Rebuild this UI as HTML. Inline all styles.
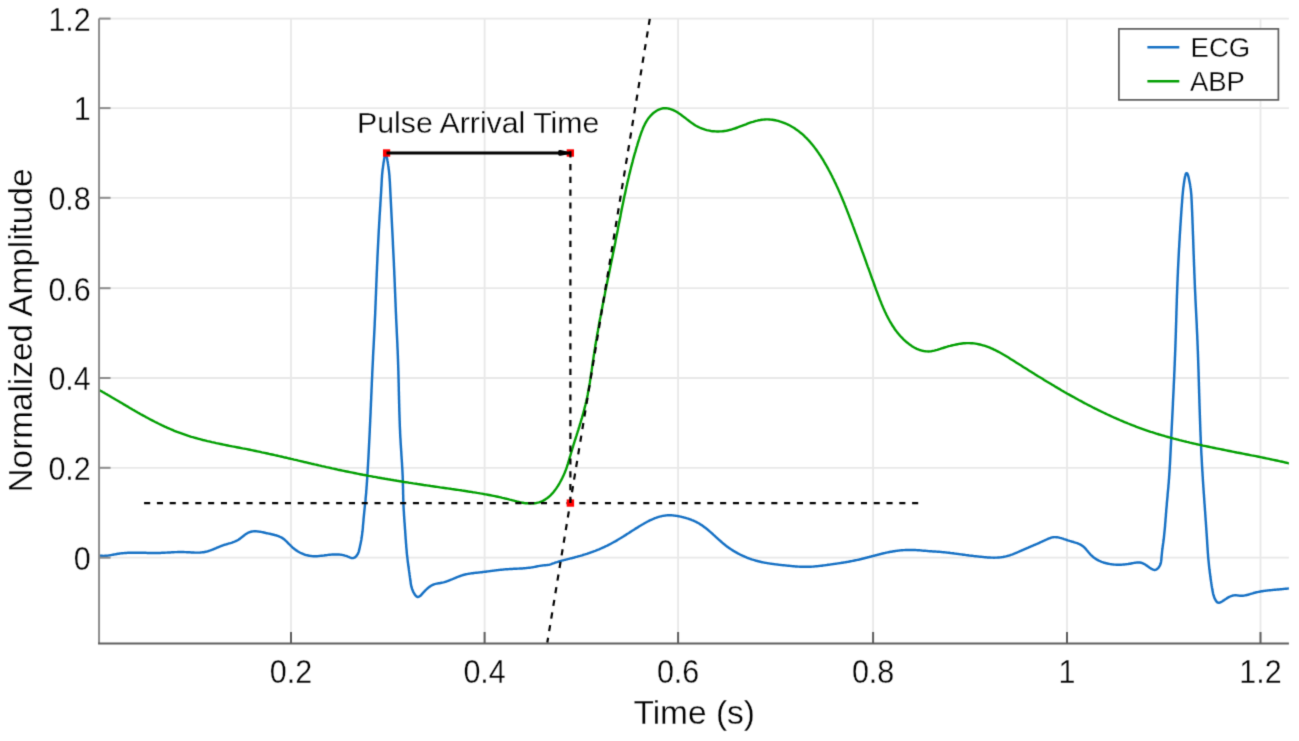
<!DOCTYPE html>
<html><head><meta charset="utf-8"><style>
html,body{margin:0;padding:0;background:#fff;width:1299px;height:741px;overflow:hidden}
svg{position:absolute;left:0;top:0;font-family:"Liberation Sans",sans-serif;}
text{stroke:#fff;stroke-width:0.3px}
</style></head><body>
<svg width="1299" height="741" viewBox="0 0 1299 741">
<defs><filter id="bl" x="0" y="0" width="1299" height="741" filterUnits="userSpaceOnUse" color-interpolation-filters="sRGB"><feConvolveMatrix order="3" kernelMatrix="0.01917 0.10012 0.01917 0.10012 0.52283 0.10012 0.01917 0.10012 0.01917" edgeMode="duplicate" preserveAlpha="true"/></filter></defs>
<g filter="url(#bl)">
<rect width="1299" height="741" fill="#fff"/>
<defs><clipPath id="pc"><rect x="99.05" y="18.6" width="1189.8500000000001" height="624.9"/></clipPath></defs>
<g stroke="#e8e8e8" stroke-width="1.8" fill="none">
<line x1="291.0" y1="18.6" x2="291.0" y2="643.5"/><line x1="484.6" y1="18.6" x2="484.6" y2="643.5"/><line x1="678.1" y1="18.6" x2="678.1" y2="643.5"/><line x1="873.1" y1="18.6" x2="873.1" y2="643.5"/><line x1="1067.0" y1="18.6" x2="1067.0" y2="643.5"/><line x1="1260.5" y1="18.6" x2="1260.5" y2="643.5"/><line x1="99.05" y1="557.7" x2="1288.9" y2="557.7"/><line x1="99.05" y1="467.8" x2="1288.9" y2="467.8"/><line x1="99.05" y1="378.0" x2="1288.9" y2="378.0"/><line x1="99.05" y1="288.2" x2="1288.9" y2="288.2"/><line x1="99.05" y1="197.8" x2="1288.9" y2="197.8"/><line x1="99.05" y1="108.1" x2="1288.9" y2="108.1"/><line x1="99.05" y1="18.6" x2="1288.9" y2="18.6"/>
</g>
<g clip-path="url(#pc)" fill="none" stroke-linejoin="round" stroke-linecap="round">
<path d="M99.0,555.4L100.0,555.6 101.0,555.7 102.0,555.8 103.0,555.9 104.0,555.9 105.0,555.8 106.0,555.8 107.0,555.7 108.0,555.6 109.0,555.4 109.9,555.3 110.9,555.1 111.9,554.9 112.9,554.7 113.9,554.5 114.9,554.4 115.8,554.2 116.8,554.0 117.8,553.8 118.8,553.7 119.8,553.5 120.8,553.4 121.8,553.3 122.8,553.2 123.8,553.1 124.8,553.0 125.8,552.9 126.8,552.9 127.8,552.8 128.8,552.8 129.8,552.7 130.8,552.7 131.8,552.7 132.8,552.7 133.8,552.7 134.8,552.7 135.8,552.7 136.8,552.7 137.8,552.7 138.8,552.7 139.8,552.7 140.8,552.7 141.8,552.7 142.8,552.8 143.8,552.8 144.8,552.8 145.8,552.8 146.8,552.9 147.8,552.9 148.8,552.9 149.8,552.9 150.8,552.9 151.8,552.9 152.8,553.0 153.8,553.0 154.8,553.0 155.8,553.0 156.8,553.0 157.8,553.0 158.8,552.9 159.8,552.9 160.8,552.9 161.8,552.8 162.8,552.8 163.8,552.8 164.8,552.7 165.8,552.6 166.8,552.6 167.8,552.5 168.8,552.5 169.8,552.4 170.8,552.4 171.8,552.3 172.8,552.2 173.8,552.2 174.8,552.1 175.8,552.1 176.8,552.1 177.8,552.0 178.8,552.0 179.8,552.0 180.8,552.0 181.8,552.0 182.8,552.0 183.8,552.0 184.8,552.1 185.8,552.1 186.8,552.2 187.8,552.2 188.8,552.3 189.8,552.3 190.8,552.4 191.8,552.4 192.8,552.5 193.8,552.5 194.8,552.6 195.8,552.6 196.8,552.6 197.8,552.6 198.8,552.6 199.8,552.6 200.8,552.5 201.7,552.4 202.7,552.3 203.7,552.2 204.7,552.0 205.7,551.8 206.7,551.6 207.6,551.3 208.6,551.0 209.5,550.7 210.5,550.4 211.4,550.0 212.4,549.7 213.3,549.3 214.2,548.9 215.1,548.5 216.1,548.1 217.0,547.7 217.9,547.3 218.8,547.0 219.7,546.6 220.7,546.2 221.6,545.8 222.5,545.5 223.5,545.2 224.4,544.8 225.4,544.6 226.3,544.3 227.3,544.0 228.3,543.7 229.2,543.4 230.2,543.2 231.2,542.9 232.1,542.6 233.1,542.2 234.0,541.9 234.9,541.5 235.8,541.1 236.7,540.7 237.6,540.2 238.5,539.7 239.3,539.1 240.1,538.6 240.9,537.9 241.7,537.3 242.5,536.7 243.3,536.1 244.0,535.5 244.8,534.8 245.6,534.3 246.5,533.7 247.3,533.2 248.2,532.7 249.1,532.3 250.1,532.0 251.0,531.7 252.0,531.5 253.0,531.4 254.0,531.3 255.0,531.3 256.0,531.3 257.0,531.4 258.0,531.5 259.0,531.6 260.0,531.7 261.0,531.9 262.0,532.1 262.9,532.3 263.9,532.5 264.9,532.7 265.9,533.0 266.8,533.2 267.8,533.4 268.8,533.6 269.8,533.8 270.7,534.0 271.7,534.3 272.7,534.5 273.7,534.7 274.6,535.0 275.6,535.2 276.6,535.5 277.5,535.8 278.5,536.2 279.4,536.6 280.3,537.0 281.2,537.4 282.1,537.9 282.9,538.4 283.7,539.0 284.5,539.6 285.3,540.3 286.0,541.0 286.7,541.7 287.4,542.4 288.1,543.1 288.8,543.8 289.5,544.5 290.2,545.2 290.9,545.9 291.7,546.6 292.4,547.3 293.2,548.0 293.9,548.6 294.7,549.2 295.5,549.8 296.3,550.4 297.2,550.9 298.0,551.5 298.9,552.0 299.8,552.5 300.6,552.9 301.6,553.3 302.5,553.7 303.4,554.1 304.3,554.5 305.3,554.8 306.2,555.1 307.2,555.3 308.2,555.5 309.2,555.7 310.2,555.9 311.1,556.0 312.1,556.1 313.1,556.2 314.1,556.2 315.1,556.2 316.1,556.2 317.1,556.2 318.1,556.1 319.1,556.0 320.1,555.9 321.1,555.8 322.1,555.7 323.1,555.6 324.1,555.5 325.1,555.3 326.1,555.2 327.1,555.1 328.1,554.9 329.1,554.8 330.1,554.7 331.1,554.6 332.1,554.5 333.1,554.5 334.1,554.4 335.1,554.4 336.1,554.4 337.1,554.4 338.1,554.4 339.1,554.5 340.0,554.6 341.0,554.7 342.0,554.9 343.0,555.1 344.0,555.3 344.9,555.6 345.9,555.9 346.9,556.2 347.8,556.6 348.7,556.9 349.6,557.3 350.6,557.7 351.5,558.0 352.5,558.1 353.5,558.0 354.4,557.6 355.3,557.1 356.0,556.4 356.7,555.6 357.2,554.8 357.8,554.0 358.2,553.1 358.6,552.1 358.9,551.2 359.1,550.2 359.4,549.2 359.6,548.3 359.8,547.3 360.0,546.3 360.2,545.3 360.4,544.4 360.6,543.4 360.8,542.4 361.0,541.4 361.2,540.4 361.4,539.4 361.5,538.5 361.7,537.5 361.8,536.5 362.0,535.5 362.1,534.5 362.2,533.5 362.3,532.5 362.5,531.5 362.6,530.5 362.7,529.5 362.8,528.5 362.9,527.5 362.9,526.5 363.0,525.5 363.1,524.5 363.2,523.5 363.3,522.5 363.4,521.5 363.5,520.6 363.5,519.6 363.6,518.6 363.7,517.6 363.8,516.6 363.9,515.6 364.0,514.6 364.1,513.6 364.2,512.6 364.3,511.6 364.4,510.6 364.5,509.6 364.6,508.6 364.7,507.6 364.8,506.6 364.9,505.6 365.1,504.6 365.2,503.6 365.3,502.6 365.4,501.6 365.5,500.6 365.6,499.6 365.6,498.6 365.7,497.7 365.8,496.7 365.9,495.7 366.0,494.7 366.1,493.7 366.2,492.7 366.2,491.7 366.3,490.7 366.4,489.7 366.5,488.7 366.5,487.7 366.6,486.7 366.7,485.7 366.8,484.7 366.8,483.7 366.9,482.7 367.0,481.7 367.0,480.7 367.1,479.7 367.2,478.7 367.2,477.7 367.3,476.7 367.3,475.7 367.4,474.7 367.5,473.7 367.5,472.7 367.6,471.7 367.7,470.7 367.7,469.7 367.8,468.7 367.8,467.7 367.9,466.7 368.0,465.7 368.0,464.7 368.1,463.7 368.1,462.7 368.2,461.7 368.2,460.7 368.3,459.7 368.4,458.7 368.4,457.7 368.5,456.7 368.5,455.7 368.6,454.7 368.6,453.7 368.7,452.7 368.7,451.7 368.8,450.7 368.8,449.7 368.9,448.7 368.9,447.7 369.0,446.7 369.0,445.7 369.1,444.7 369.1,443.7 369.2,442.7 369.2,441.7 369.3,440.7 369.3,439.7 369.4,438.7 369.4,437.7 369.5,436.7 369.5,435.7 369.6,434.7 369.6,433.7 369.7,432.7 369.7,431.7 369.8,430.7 369.8,429.7 369.8,428.7 369.9,427.7 369.9,426.7 370.0,425.7 370.0,424.7 370.1,423.7 370.1,422.7 370.2,421.7 370.2,420.7 370.2,419.7 370.3,418.7 370.3,417.8 370.4,416.8 370.4,415.8 370.5,414.8 370.5,413.8 370.6,412.8 370.6,411.8 370.6,410.8 370.7,409.8 370.7,408.8 370.8,407.8 370.8,406.8 370.9,405.8 370.9,404.8 370.9,403.8 371.0,402.8 371.0,401.8 371.1,400.8 371.1,399.8 371.2,398.8 371.2,397.8 371.2,396.8 371.3,395.8 371.3,394.8 371.4,393.8 371.4,392.8 371.5,391.8 371.5,390.8 371.5,389.8 371.6,388.8 371.6,387.8 371.7,386.8 371.7,385.8 371.8,384.8 371.8,383.8 371.8,382.8 371.9,381.8 371.9,380.8 372.0,379.8 372.0,378.8 372.1,377.8 372.1,376.8 372.2,375.8 372.2,374.8 372.2,373.8 372.3,372.8 372.3,371.8 372.4,370.8 372.4,369.8 372.5,368.8 372.5,367.8 372.6,366.8 372.6,365.8 372.7,364.8 372.7,363.8 372.8,362.8 372.8,361.8 372.9,360.8 372.9,359.8 373.0,358.8 373.0,357.8 373.0,356.8 373.1,355.8 373.1,354.8 373.2,353.8 373.2,352.8 373.3,351.8 373.3,350.8 373.4,349.8 373.5,348.8 373.5,347.8 373.6,346.8 373.6,345.8 373.7,344.8 373.7,343.8 373.8,342.8 373.8,341.8 373.9,340.8 373.9,339.8 374.0,338.8 374.0,337.8 374.1,336.8 374.1,335.8 374.2,334.8 374.2,333.8 374.3,332.8 374.3,331.8 374.4,330.8 374.4,329.8 374.5,328.8 374.5,327.8 374.6,326.8 374.6,325.8 374.7,324.8 374.7,323.8 374.7,322.8 374.8,321.8 374.8,320.8 374.9,319.8 374.9,318.8 375.0,317.8 375.0,316.8 375.1,315.8 375.1,314.8 375.2,313.8 375.2,312.8 375.2,311.8 375.3,310.8 375.3,309.8 375.4,308.8 375.4,307.8 375.4,306.8 375.5,305.8 375.5,304.8 375.6,303.8 375.6,302.8 375.6,301.8 375.7,300.8 375.7,299.8 375.8,298.8 375.8,297.8 375.8,296.8 375.9,295.8 375.9,294.8 376.0,293.8 376.0,292.8 376.0,291.8 376.1,290.8 376.1,289.8 376.1,288.8 376.2,287.8 376.2,286.8 376.3,285.8 376.3,284.8 376.3,283.8 376.4,282.8 376.4,281.8 376.5,280.8 376.5,279.8 376.5,278.8 376.6,277.8 376.6,276.8 376.7,275.8 376.7,274.8 376.7,273.8 376.8,272.8 376.8,271.8 376.9,270.8 376.9,269.8 377.0,268.8 377.0,267.8 377.0,266.8 377.1,265.8 377.1,264.8 377.2,263.8 377.2,262.8 377.3,261.8 377.3,260.8 377.4,259.8 377.4,258.8 377.4,257.8 377.5,256.8 377.5,255.8 377.6,254.8 377.6,253.8 377.7,252.8 377.7,251.8 377.8,250.8 377.8,249.8 377.9,248.8 377.9,247.8 378.0,246.8 378.0,245.8 378.1,244.8 378.1,243.8 378.2,242.8 378.2,241.8 378.3,240.8 378.3,239.8 378.4,238.8 378.4,237.8 378.5,236.8 378.5,235.8 378.6,234.8 378.6,233.8 378.7,232.8 378.7,231.8 378.8,230.8 378.8,229.8 378.9,228.8 379.0,227.9 379.0,226.9 379.1,225.9 379.1,224.9 379.2,223.9 379.2,222.9 379.3,221.9 379.4,220.9 379.4,219.9 379.5,218.9 379.5,217.9 379.6,216.9 379.6,215.9 379.7,214.9 379.8,213.9 379.8,212.9 379.9,211.9 380.0,210.9 380.0,209.9 380.1,208.9 380.1,207.9 380.2,206.9 380.3,205.9 380.3,204.9 380.4,203.9 380.4,202.9 380.5,201.9 380.6,200.9 380.6,199.9 380.7,198.9 380.7,197.9 380.8,196.9 380.9,195.9 380.9,194.9 381.0,193.9 381.1,192.9 381.1,191.9 381.2,190.9 381.2,189.9 381.3,188.9 381.3,187.9 381.4,186.9 381.5,185.9 381.5,184.9 381.6,183.9 381.6,182.9 381.7,181.9 381.7,180.9 381.8,179.9 381.8,178.9 381.9,177.9 382.0,176.9 382.0,175.9 382.1,174.9 382.2,173.9 382.3,172.9 382.4,171.9 382.5,170.9 382.6,169.9 382.7,168.9 382.9,168.0 383.0,167.0 383.1,166.0 383.3,165.0 383.4,164.0 383.5,163.0 383.7,162.0 383.9,161.0 384.0,160.0 384.2,159.1 384.4,158.1 384.5,157.1 384.7,156.1 385.0,155.1 385.3,154.1 385.9,153.6 386.3,154.5 386.5,155.5 386.7,156.5 386.9,157.5 387.1,158.4 387.3,159.4 387.4,160.4 387.6,161.4 387.8,162.4 387.9,163.4 388.1,164.4 388.2,165.4 388.4,166.4 388.5,167.3 388.6,168.3 388.7,169.3 388.9,170.3 389.0,171.3 389.1,172.3 389.2,173.3 389.3,174.3 389.4,175.3 389.5,176.3 389.5,177.3 389.6,178.3 389.7,179.3 389.7,180.3 389.8,181.3 389.9,182.3 389.9,183.3 390.0,184.3 390.0,185.3 390.1,186.3 390.1,187.3 390.2,188.3 390.2,189.3 390.3,190.3 390.3,191.3 390.4,192.3 390.4,193.3 390.5,194.3 390.5,195.3 390.6,196.3 390.6,197.3 390.7,198.3 390.7,199.3 390.8,200.3 390.8,201.3 390.9,202.3 390.9,203.3 391.0,204.3 391.0,205.3 391.1,206.3 391.1,207.3 391.2,208.3 391.2,209.3 391.3,210.3 391.3,211.3 391.4,212.3 391.4,213.3 391.5,214.3 391.5,215.3 391.6,216.3 391.6,217.3 391.7,218.3 391.7,219.3 391.8,220.3 391.8,221.3 391.9,222.3 391.9,223.3 392.0,224.3 392.0,225.3 392.1,226.3 392.1,227.3 392.2,228.3 392.2,229.3 392.3,230.2 392.3,231.2 392.4,232.2 392.4,233.2 392.5,234.2 392.5,235.2 392.6,236.2 392.6,237.2 392.7,238.2 392.7,239.2 392.8,240.2 392.8,241.2 392.9,242.2 392.9,243.2 392.9,244.2 393.0,245.2 393.0,246.2 393.1,247.2 393.1,248.2 393.2,249.2 393.2,250.2 393.3,251.2 393.3,252.2 393.4,253.2 393.4,254.2 393.5,255.2 393.5,256.2 393.6,257.2 393.6,258.2 393.7,259.2 393.7,260.2 393.8,261.2 393.8,262.2 393.9,263.2 393.9,264.2 393.9,265.2 394.0,266.2 394.0,267.2 394.1,268.2 394.1,269.2 394.2,270.2 394.2,271.2 394.3,272.2 394.3,273.2 394.3,274.2 394.4,275.2 394.4,276.2 394.5,277.2 394.5,278.2 394.6,279.2 394.6,280.2 394.6,281.2 394.7,282.2 394.7,283.2 394.8,284.2 394.8,285.2 394.8,286.2 394.9,287.2 394.9,288.2 395.0,289.2 395.0,290.2 395.0,291.2 395.1,292.2 395.1,293.2 395.2,294.2 395.2,295.2 395.2,296.2 395.3,297.2 395.3,298.2 395.4,299.2 395.4,300.2 395.4,301.2 395.5,302.2 395.5,303.2 395.6,304.2 395.6,305.2 395.6,306.2 395.7,307.2 395.7,308.2 395.8,309.2 395.8,310.2 395.8,311.2 395.9,312.2 395.9,313.2 396.0,314.2 396.0,315.2 396.1,316.2 396.1,317.2 396.1,318.2 396.2,319.2 396.2,320.2 396.3,321.2 396.3,322.2 396.4,323.2 396.4,324.2 396.5,325.2 396.5,326.2 396.6,327.2 396.6,328.2 396.7,329.2 396.7,330.2 396.7,331.2 396.8,332.2 396.8,333.2 396.9,334.2 396.9,335.2 397.0,336.2 397.0,337.2 397.1,338.2 397.1,339.2 397.2,340.2 397.2,341.2 397.3,342.2 397.3,343.2 397.4,344.2 397.4,345.2 397.4,346.2 397.5,347.2 397.5,348.2 397.6,349.2 397.6,350.2 397.7,351.2 397.7,352.2 397.7,353.2 397.8,354.2 397.8,355.2 397.9,356.2 397.9,357.2 397.9,358.2 398.0,359.2 398.0,360.2 398.0,361.2 398.1,362.2 398.1,363.2 398.1,364.2 398.2,365.2 398.2,366.2 398.2,367.2 398.3,368.2 398.3,369.2 398.3,370.2 398.4,371.2 398.4,372.2 398.4,373.2 398.4,374.2 398.5,375.2 398.5,376.2 398.5,377.2 398.5,378.2 398.6,379.2 398.6,380.2 398.6,381.2 398.6,382.2 398.7,383.2 398.7,384.2 398.7,385.2 398.7,386.2 398.8,387.2 398.8,388.2 398.8,389.2 398.8,390.2 398.8,391.2 398.9,392.2 398.9,393.2 398.9,394.2 398.9,395.2 399.0,396.2 399.0,397.2 399.0,398.2 399.0,399.2 399.1,400.2 399.1,401.2 399.1,402.2 399.1,403.2 399.2,404.2 399.2,405.2 399.2,406.2 399.2,407.2 399.3,408.2 399.3,409.2 399.3,410.2 399.3,411.2 399.4,412.2 399.4,413.2 399.4,414.2 399.5,415.2 399.5,416.2 399.5,417.2 399.6,418.2 399.6,419.2 399.6,420.2 399.7,421.2 399.7,422.2 399.7,423.2 399.8,424.2 399.8,425.2 399.8,426.2 399.9,427.2 399.9,428.2 400.0,429.2 400.0,430.2 400.1,431.2 400.1,432.2 400.1,433.2 400.2,434.2 400.2,435.2 400.3,436.2 400.3,437.2 400.4,438.2 400.5,439.2 400.5,440.2 400.6,441.2 400.6,442.2 400.7,443.2 400.7,444.2 400.8,445.2 400.9,446.2 400.9,447.2 401.0,448.2 401.1,449.2 401.1,450.2 401.2,451.2 401.3,452.2 401.3,453.2 401.4,454.2 401.4,455.2 401.5,456.2 401.6,457.2 401.6,458.2 401.7,459.2 401.8,460.2 401.8,461.2 401.9,462.2 402.0,463.2 402.0,464.2 402.1,465.2 402.1,466.1 402.2,467.1 402.3,468.1 402.3,469.1 402.4,470.1 402.4,471.1 402.5,472.1 402.5,473.1 402.6,474.1 402.6,475.1 402.7,476.1 402.7,477.1 402.7,478.1 402.8,479.1 402.8,480.1 402.8,481.1 402.9,482.1 402.9,483.1 402.9,484.1 402.9,485.1 403.0,486.1 403.0,487.1 403.0,488.1 403.0,489.1 403.1,490.1 403.1,491.1 403.1,492.1 403.1,493.1 403.1,494.1 403.2,495.1 403.2,496.1 403.2,497.1 403.2,498.1 403.3,499.1 403.3,500.1 403.3,501.1 403.4,502.1 403.4,503.1 403.4,504.1 403.5,505.1 403.5,506.1 403.6,507.1 403.6,508.1 403.7,509.1 403.7,510.1 403.8,511.1 403.9,512.1 403.9,513.1 404.0,514.1 404.0,515.1 404.1,516.1 404.2,517.1 404.2,518.1 404.3,519.1 404.4,520.1 404.4,521.1 404.5,522.1 404.6,523.1 404.7,524.1 404.7,525.1 404.8,526.1 404.9,527.1 404.9,528.1 405.0,529.1 405.1,530.1 405.2,531.1 405.2,532.1 405.3,533.1 405.4,534.1 405.4,535.1 405.5,536.1 405.6,537.1 405.6,538.1 405.7,539.1 405.8,540.1 405.9,541.1 405.9,542.1 406.0,543.1 406.1,544.1 406.2,545.1 406.2,546.1 406.3,547.1 406.4,548.1 406.5,549.1 406.6,550.1 406.7,551.1 406.7,552.1 406.8,553.0 406.9,554.0 407.0,555.0 407.1,556.0 407.3,557.0 407.4,558.0 407.5,559.0 407.6,560.0 407.7,561.0 407.8,562.0 408.0,563.0 408.1,564.0 408.2,565.0 408.4,566.0 408.5,567.0 408.7,567.9 408.8,568.9 408.9,569.9 409.1,570.9 409.2,571.9 409.4,572.9 409.5,573.9 409.6,574.9 409.8,575.9 409.9,576.9 410.0,577.9 410.2,578.8 410.3,579.8 410.4,580.8 410.6,581.8 410.7,582.8 410.8,583.8 411.0,584.8 411.2,585.8 411.4,586.7 411.7,587.7 412.0,588.7 412.3,589.6 412.7,590.5 413.1,591.5 413.5,592.4 414.0,593.2 414.5,594.1 415.1,594.9 415.7,595.7 416.4,596.4 417.3,596.9 418.3,596.9 419.2,596.6 420.0,596.0 420.8,595.4 421.5,594.6 422.2,593.9 422.8,593.1 423.5,592.4 424.2,591.7 424.9,590.9 425.6,590.2 426.3,589.5 427.0,588.8 427.8,588.2 428.5,587.5 429.3,586.9 430.1,586.4 431.0,585.8 431.8,585.3 432.7,584.9 433.7,584.5 434.6,584.1 435.6,583.9 436.5,583.6 437.5,583.5 438.5,583.3 439.5,583.2 440.5,583.0 441.5,582.8 442.4,582.6 443.4,582.4 444.4,582.1 445.3,581.8 446.3,581.5 447.2,581.2 448.2,580.8 449.1,580.5 450.0,580.1 451.0,579.7 451.9,579.4 452.8,579.0 453.7,578.6 454.7,578.2 455.6,577.8 456.5,577.4 457.4,577.0 458.4,576.7 459.3,576.3 460.2,576.0 461.2,575.6 462.1,575.3 463.1,575.0 464.0,574.8 465.0,574.5 466.0,574.3 467.0,574.1 468.0,573.9 468.9,573.7 469.9,573.6 470.9,573.4 471.9,573.3 472.9,573.2 473.9,573.0 474.9,572.9 475.9,572.8 476.9,572.7 477.9,572.6 478.9,572.5 479.9,572.4 480.9,572.3 481.8,572.2 482.8,572.0 483.8,571.9 484.8,571.8 485.8,571.7 486.8,571.5 487.8,571.4 488.8,571.3 489.8,571.1 490.8,571.0 491.8,570.9 492.8,570.7 493.8,570.6 494.7,570.5 495.7,570.4 496.7,570.2 497.7,570.1 498.7,570.0 499.7,569.9 500.7,569.8 501.7,569.7 502.7,569.6 503.7,569.5 504.7,569.4 505.7,569.3 506.7,569.2 507.7,569.2 508.7,569.1 509.7,569.0 510.7,569.0 511.7,568.9 512.7,568.9 513.7,568.8 514.7,568.8 515.7,568.7 516.7,568.7 517.7,568.6 518.7,568.6 519.7,568.5 520.7,568.5 521.7,568.4 522.7,568.4 523.7,568.3 524.7,568.2 525.7,568.1 526.7,568.0 527.7,567.9 528.7,567.8 529.6,567.7 530.6,567.6 531.6,567.4 532.6,567.3 533.6,567.1 534.6,566.9 535.6,566.7 536.5,566.5 537.5,566.3 538.5,566.1 539.5,565.9 540.5,565.8 541.5,565.6 542.4,565.5 543.4,565.4 544.4,565.3 545.4,565.2 546.4,565.1 547.4,565.0 548.4,564.9 549.4,564.7 550.4,564.4 551.3,564.1 552.3,563.7 553.2,563.4 554.1,563.1 555.1,562.7 556.0,562.4 557.0,562.1 557.9,561.8 558.9,561.5 559.9,561.3 560.8,561.0 561.8,560.7 562.8,560.4 563.7,560.2 564.7,559.9 565.7,559.7 566.6,559.4 567.6,559.2 568.6,558.9 569.5,558.7 570.5,558.4 571.5,558.2 572.4,558.0 573.4,557.7 574.4,557.5 575.3,557.2 576.3,556.9 577.3,556.7 578.2,556.4 579.2,556.1 580.2,555.9 581.1,555.6 582.1,555.3 583.0,555.0 584.0,554.7 585.0,554.4 585.9,554.1 586.9,553.8 587.8,553.5 588.8,553.2 589.7,552.8 590.6,552.5 591.6,552.2 592.5,551.8 593.5,551.5 594.4,551.1 595.3,550.8 596.3,550.4 597.2,550.0 598.1,549.7 599.1,549.3 600.0,548.9 600.9,548.5 601.8,548.1 602.7,547.7 603.6,547.3 604.5,546.9 605.5,546.4 606.4,546.0 607.3,545.6 608.2,545.1 609.0,544.7 609.9,544.2 610.8,543.8 611.7,543.3 612.6,542.8 613.5,542.3 614.3,541.8 615.2,541.4 616.1,540.9 616.9,540.4 617.8,539.8 618.7,539.3 619.5,538.8 620.4,538.3 621.2,537.8 622.1,537.2 622.9,536.7 623.8,536.2 624.6,535.6 625.5,535.1 626.3,534.6 627.1,534.0 628.0,533.5 628.8,533.0 629.7,532.4 630.5,531.9 631.4,531.3 632.2,530.8 633.0,530.3 633.9,529.7 634.7,529.2 635.6,528.6 636.4,528.1 637.3,527.6 638.1,527.1 639.0,526.5 639.8,526.0 640.7,525.5 641.5,525.0 642.4,524.5 643.3,524.0 644.1,523.5 645.0,523.0 645.9,522.5 646.8,522.0 647.6,521.5 648.5,521.1 649.4,520.6 650.3,520.2 651.2,519.8 652.2,519.4 653.1,519.0 654.0,518.6 654.9,518.2 655.9,517.9 656.8,517.5 657.8,517.2 658.7,516.9 659.7,516.6 660.6,516.4 661.6,516.2 662.6,515.9 663.6,515.8 664.6,515.6 665.6,515.5 666.5,515.4 667.5,515.3 668.5,515.3 669.5,515.3 670.5,515.3 671.5,515.3 672.5,515.4 673.5,515.5 674.5,515.6 675.5,515.7 676.5,515.9 677.5,516.0 678.5,516.2 679.5,516.4 680.4,516.6 681.4,516.8 682.4,517.1 683.4,517.3 684.3,517.6 685.3,517.8 686.3,518.1 687.2,518.4 688.2,518.7 689.1,519.0 690.1,519.3 691.0,519.7 691.9,520.1 692.9,520.4 693.8,520.8 694.7,521.2 695.6,521.7 696.5,522.1 697.4,522.6 698.3,523.0 699.1,523.5 700.0,524.1 700.8,524.6 701.7,525.1 702.5,525.7 703.3,526.3 704.1,526.9 704.9,527.5 705.7,528.1 706.5,528.7 707.3,529.3 708.1,530.0 708.8,530.6 709.6,531.3 710.3,531.9 711.1,532.6 711.8,533.2 712.6,533.9 713.3,534.6 714.1,535.3 714.8,535.9 715.5,536.6 716.3,537.3 717.0,538.0 717.7,538.6 718.5,539.3 719.2,540.0 720.0,540.7 720.7,541.3 721.5,542.0 722.2,542.6 723.0,543.3 723.8,543.9 724.5,544.5 725.3,545.2 726.1,545.8 726.9,546.4 727.7,547.0 728.5,547.6 729.3,548.1 730.2,548.7 731.0,549.3 731.8,549.8 732.7,550.4 733.5,550.9 734.4,551.4 735.2,551.9 736.1,552.4 737.0,552.9 737.9,553.4 738.7,553.8 739.6,554.3 740.5,554.7 741.4,555.2 742.3,555.6 743.2,556.0 744.2,556.4 745.1,556.8 746.0,557.2 746.9,557.6 747.9,558.0 748.8,558.3 749.7,558.7 750.7,559.0 751.6,559.3 752.6,559.6 753.5,559.9 754.5,560.2 755.4,560.5 756.4,560.8 757.4,561.0 758.3,561.3 759.3,561.5 760.3,561.7 761.3,562.0 762.2,562.2 763.2,562.4 764.2,562.6 765.2,562.8 766.2,562.9 767.2,563.1 768.1,563.3 769.1,563.4 770.1,563.6 771.1,563.7 772.1,563.9 773.1,564.0 774.1,564.1 775.1,564.3 776.1,564.4 777.1,564.5 778.1,564.6 779.1,564.8 780.0,564.9 781.0,565.0 782.0,565.1 783.0,565.2 784.0,565.3 785.0,565.4 786.0,565.5 787.0,565.6 788.0,565.7 789.0,565.8 790.0,565.9 791.0,566.0 792.0,566.1 793.0,566.2 794.0,566.3 795.0,566.4 796.0,566.4 797.0,566.5 798.0,566.6 799.0,566.6 800.0,566.7 801.0,566.7 802.0,566.8 803.0,566.8 804.0,566.8 805.0,566.8 806.0,566.8 807.0,566.8 808.0,566.8 809.0,566.8 810.0,566.7 811.0,566.7 812.0,566.6 813.0,566.6 814.0,566.5 815.0,566.4 816.0,566.3 817.0,566.2 818.0,566.1 818.9,566.0 819.9,565.9 820.9,565.8 821.9,565.7 822.9,565.5 823.9,565.4 824.9,565.3 825.9,565.1 826.9,565.0 827.9,564.8 828.9,564.7 829.9,564.6 830.8,564.4 831.8,564.3 832.8,564.1 833.8,564.0 834.8,563.9 835.8,563.7 836.8,563.6 837.8,563.4 838.8,563.3 839.8,563.1 840.7,563.0 841.7,562.8 842.7,562.7 843.7,562.5 844.7,562.4 845.7,562.2 846.7,562.0 847.7,561.9 848.6,561.7 849.6,561.5 850.6,561.3 851.6,561.1 852.6,560.9 853.6,560.7 854.5,560.5 855.5,560.3 856.5,560.1 857.5,559.9 858.4,559.7 859.4,559.5 860.4,559.2 861.4,559.0 862.3,558.7 863.3,558.5 864.3,558.3 865.2,558.0 866.2,557.8 867.2,557.5 868.2,557.2 869.1,557.0 870.1,556.7 871.1,556.5 872.0,556.2 873.0,556.0 874.0,555.7 874.9,555.5 875.9,555.2 876.9,555.0 877.8,554.7 878.8,554.5 879.8,554.2 880.7,554.0 881.7,553.7 882.7,553.5 883.7,553.3 884.6,553.1 885.6,552.8 886.6,552.6 887.6,552.4 888.6,552.2 889.5,552.0 890.5,551.8 891.5,551.7 892.5,551.5 893.5,551.3 894.5,551.2 895.4,551.0 896.4,550.9 897.4,550.7 898.4,550.6 899.4,550.5 900.4,550.4 901.4,550.3 902.4,550.2 903.4,550.1 904.4,550.1 905.4,550.0 906.4,550.0 907.4,549.9 908.4,549.9 909.4,549.9 910.4,549.9 911.4,549.9 912.4,549.9 913.4,549.9 914.4,550.0 915.4,550.0 916.4,550.1 917.4,550.2 918.4,550.2 919.4,550.3 920.4,550.4 921.4,550.5 922.4,550.6 923.4,550.7 924.4,550.8 925.4,550.8 926.4,550.9 927.4,551.0 928.4,551.1 929.4,551.2 930.4,551.2 931.4,551.3 932.4,551.4 933.4,551.4 934.4,551.5 935.4,551.5 936.4,551.6 937.3,551.7 938.3,551.7 939.3,551.8 940.3,551.9 941.3,552.0 942.3,552.1 943.3,552.2 944.3,552.3 945.3,552.4 946.3,552.5 947.3,552.6 948.3,552.7 949.3,552.8 950.3,553.0 951.3,553.1 952.3,553.2 953.3,553.3 954.3,553.5 955.3,553.6 956.2,553.7 957.2,553.9 958.2,554.0 959.2,554.1 960.2,554.3 961.2,554.4 962.2,554.5 963.2,554.7 964.2,554.8 965.2,554.9 966.2,555.1 967.1,555.2 968.1,555.3 969.1,555.5 970.1,555.6 971.1,555.7 972.1,555.8 973.1,555.9 974.1,556.1 975.1,556.2 976.1,556.3 977.1,556.4 978.1,556.5 979.1,556.6 980.1,556.7 981.1,556.8 982.1,556.9 983.1,557.0 984.0,557.1 985.0,557.2 986.0,557.3 987.0,557.4 988.0,557.4 989.0,557.5 990.0,557.5 991.0,557.6 992.0,557.6 993.0,557.6 994.0,557.7 995.0,557.6 996.0,557.6 997.0,557.6 998.0,557.5 999.0,557.5 1000.0,557.4 1001.0,557.3 1002.0,557.1 1003.0,557.0 1004.0,556.8 1005.0,556.6 1005.9,556.4 1006.9,556.1 1007.9,555.8 1008.8,555.6 1009.8,555.3 1010.7,554.9 1011.7,554.6 1012.6,554.3 1013.6,553.9 1014.5,553.5 1015.4,553.2 1016.3,552.8 1017.3,552.4 1018.2,552.0 1019.1,551.6 1020.0,551.2 1020.9,550.8 1021.8,550.4 1022.8,550.0 1023.7,549.6 1024.6,549.2 1025.5,548.8 1026.4,548.4 1027.3,548.0 1028.3,547.6 1029.2,547.2 1030.1,546.8 1031.0,546.4 1031.9,546.0 1032.9,545.6 1033.8,545.2 1034.7,544.8 1035.6,544.5 1036.5,544.1 1037.5,543.7 1038.4,543.3 1039.3,542.9 1040.2,542.4 1041.1,542.0 1042.0,541.6 1042.9,541.2 1043.8,540.8 1044.7,540.3 1045.7,539.9 1046.6,539.5 1047.5,539.1 1048.4,538.7 1049.3,538.3 1050.3,538.0 1051.2,537.7 1052.2,537.4 1053.2,537.2 1054.2,537.1 1055.2,537.1 1056.2,537.2 1057.2,537.3 1058.1,537.4 1059.1,537.6 1060.1,537.9 1061.1,538.1 1062.0,538.4 1063.0,538.7 1063.9,539.1 1064.9,539.4 1065.8,539.7 1066.7,540.0 1067.7,540.4 1068.7,540.6 1069.6,540.9 1070.6,541.2 1071.5,541.5 1072.5,541.7 1073.5,542.0 1074.4,542.3 1075.4,542.6 1076.3,542.9 1077.3,543.2 1078.2,543.6 1079.1,544.0 1080.0,544.4 1080.9,544.9 1081.8,545.4 1082.6,546.0 1083.4,546.6 1084.1,547.2 1084.9,547.9 1085.5,548.7 1086.2,549.4 1086.8,550.2 1087.5,551.0 1088.1,551.8 1088.7,552.5 1089.4,553.3 1090.0,554.0 1090.7,554.8 1091.4,555.5 1092.2,556.1 1092.9,556.8 1093.7,557.4 1094.5,558.0 1095.3,558.6 1096.2,559.1 1097.0,559.6 1097.9,560.1 1098.8,560.6 1099.7,561.0 1100.6,561.4 1101.6,561.8 1102.5,562.1 1103.4,562.5 1104.4,562.8 1105.4,563.0 1106.3,563.3 1107.3,563.5 1108.3,563.7 1109.3,563.9 1110.2,564.1 1111.2,564.2 1112.2,564.4 1113.2,564.5 1114.2,564.6 1115.2,564.6 1116.2,564.7 1117.2,564.7 1118.2,564.7 1119.2,564.7 1120.2,564.7 1121.2,564.7 1122.2,564.6 1123.2,564.5 1124.2,564.5 1125.2,564.4 1126.2,564.2 1127.2,564.1 1128.2,564.0 1129.2,563.8 1130.2,563.7 1131.1,563.5 1132.1,563.3 1133.1,563.1 1134.1,562.9 1135.1,562.7 1136.1,562.6 1137.1,562.4 1138.0,562.4 1139.0,562.4 1140.0,562.5 1141.0,562.7 1142.0,563.0 1142.9,563.4 1143.8,563.8 1144.7,564.3 1145.5,564.8 1146.4,565.4 1147.2,565.9 1148.0,566.5 1148.8,567.1 1149.6,567.7 1150.5,568.2 1151.3,568.8 1152.2,569.2 1153.1,569.6 1154.1,569.9 1155.1,569.9 1156.1,569.6 1156.9,569.2 1157.7,568.5 1158.4,567.8 1159.0,567.0 1159.5,566.1 1160.0,565.3 1160.4,564.3 1160.7,563.4 1160.9,562.4 1161.1,561.4 1161.2,560.4 1161.4,559.4 1161.4,558.4 1161.5,557.4 1161.6,556.4 1161.7,555.5 1161.8,554.5 1161.9,553.5 1162.0,552.5 1162.1,551.5 1162.2,550.5 1162.3,549.5 1162.5,548.5 1162.6,547.5 1162.7,546.5 1162.9,545.5 1163.0,544.5 1163.1,543.5 1163.3,542.5 1163.4,541.6 1163.5,540.6 1163.7,539.6 1163.8,538.6 1163.9,537.6 1164.0,536.6 1164.1,535.6 1164.2,534.6 1164.3,533.6 1164.4,532.6 1164.5,531.6 1164.6,530.6 1164.7,529.6 1164.8,528.6 1164.9,527.6 1165.0,526.6 1165.1,525.6 1165.1,524.6 1165.2,523.6 1165.3,522.6 1165.4,521.6 1165.5,520.6 1165.5,519.6 1165.6,518.7 1165.7,517.7 1165.8,516.7 1165.9,515.7 1165.9,514.7 1166.0,513.7 1166.1,512.7 1166.2,511.7 1166.2,510.7 1166.3,509.7 1166.4,508.7 1166.5,507.7 1166.6,506.7 1166.7,505.7 1166.8,504.7 1166.8,503.7 1166.9,502.7 1167.0,501.7 1167.1,500.7 1167.2,499.7 1167.3,498.7 1167.4,497.7 1167.5,496.7 1167.6,495.7 1167.6,494.7 1167.7,493.7 1167.8,492.7 1167.9,491.7 1168.0,490.7 1168.1,489.7 1168.2,488.7 1168.3,487.7 1168.4,486.8 1168.4,485.8 1168.5,484.8 1168.6,483.8 1168.7,482.8 1168.8,481.8 1168.8,480.8 1168.9,479.8 1169.0,478.8 1169.1,477.8 1169.1,476.8 1169.2,475.8 1169.3,474.8 1169.3,473.8 1169.4,472.8 1169.5,471.8 1169.5,470.8 1169.6,469.8 1169.7,468.8 1169.7,467.8 1169.8,466.8 1169.8,465.8 1169.9,464.8 1170.0,463.8 1170.0,462.8 1170.1,461.8 1170.1,460.8 1170.2,459.8 1170.2,458.8 1170.3,457.8 1170.3,456.8 1170.4,455.8 1170.4,454.8 1170.5,453.8 1170.5,452.8 1170.6,451.8 1170.6,450.8 1170.7,449.8 1170.7,448.8 1170.8,447.8 1170.8,446.8 1170.9,445.8 1170.9,444.8 1171.0,443.8 1171.0,442.8 1171.1,441.8 1171.1,440.8 1171.2,439.8 1171.2,438.8 1171.2,437.8 1171.3,436.8 1171.3,435.8 1171.4,434.8 1171.4,433.8 1171.5,432.8 1171.5,431.8 1171.6,430.8 1171.6,429.8 1171.7,428.8 1171.7,427.8 1171.8,426.8 1171.8,425.8 1171.9,424.8 1171.9,423.8 1172.0,422.8 1172.0,421.8 1172.1,420.8 1172.1,419.8 1172.2,418.8 1172.2,417.8 1172.3,416.8 1172.3,415.8 1172.4,414.8 1172.4,413.8 1172.5,412.8 1172.5,411.8 1172.6,410.8 1172.6,409.8 1172.7,408.8 1172.7,407.8 1172.8,406.8 1172.8,405.8 1172.9,404.8 1172.9,403.8 1172.9,402.8 1173.0,401.8 1173.0,400.8 1173.1,399.8 1173.1,398.8 1173.2,397.8 1173.2,396.8 1173.3,395.8 1173.3,394.8 1173.4,393.8 1173.4,392.8 1173.5,391.8 1173.5,390.8 1173.6,389.8 1173.6,388.8 1173.7,387.8 1173.7,386.8 1173.7,385.8 1173.8,384.9 1173.8,383.9 1173.9,382.9 1173.9,381.9 1174.0,380.9 1174.0,379.9 1174.1,378.9 1174.1,377.9 1174.2,376.9 1174.2,375.9 1174.2,374.9 1174.3,373.9 1174.3,372.9 1174.4,371.9 1174.4,370.9 1174.5,369.9 1174.5,368.9 1174.5,367.9 1174.6,366.9 1174.6,365.9 1174.7,364.9 1174.7,363.9 1174.7,362.9 1174.8,361.9 1174.8,360.9 1174.9,359.9 1174.9,358.9 1174.9,357.9 1175.0,356.9 1175.0,355.9 1175.1,354.9 1175.1,353.9 1175.1,352.9 1175.2,351.9 1175.2,350.9 1175.3,349.9 1175.3,348.9 1175.3,347.9 1175.4,346.9 1175.4,345.9 1175.4,344.9 1175.5,343.9 1175.5,342.9 1175.5,341.9 1175.6,340.9 1175.6,339.9 1175.6,338.9 1175.7,337.9 1175.7,336.9 1175.7,335.9 1175.8,334.9 1175.8,333.9 1175.8,332.9 1175.9,331.9 1175.9,330.9 1175.9,329.9 1175.9,328.9 1176.0,327.9 1176.0,326.9 1176.0,325.9 1176.1,324.9 1176.1,323.9 1176.1,322.9 1176.2,321.9 1176.2,320.9 1176.2,319.9 1176.2,318.9 1176.3,317.9 1176.3,316.9 1176.3,315.9 1176.4,314.9 1176.4,313.9 1176.4,312.9 1176.4,311.9 1176.5,310.9 1176.5,309.9 1176.5,308.9 1176.6,307.9 1176.6,306.9 1176.6,305.9 1176.7,304.9 1176.7,303.9 1176.7,302.9 1176.8,301.9 1176.8,300.9 1176.8,299.9 1176.8,298.9 1176.9,297.9 1176.9,296.9 1176.9,295.9 1177.0,294.9 1177.0,293.9 1177.1,292.9 1177.1,291.9 1177.1,290.9 1177.2,289.9 1177.2,288.9 1177.2,287.9 1177.3,286.9 1177.3,285.9 1177.4,284.9 1177.4,283.9 1177.4,282.9 1177.5,281.9 1177.5,280.9 1177.6,279.9 1177.6,278.9 1177.6,277.9 1177.7,276.9 1177.7,275.9 1177.8,274.9 1177.8,273.9 1177.9,272.9 1177.9,271.9 1177.9,270.9 1178.0,269.9 1178.0,268.9 1178.1,267.9 1178.1,266.9 1178.2,265.9 1178.2,264.9 1178.3,263.9 1178.3,262.9 1178.4,261.9 1178.4,260.9 1178.5,259.9 1178.5,258.9 1178.6,257.9 1178.6,256.9 1178.7,255.9 1178.7,254.9 1178.8,253.9 1178.8,252.9 1178.9,251.9 1178.9,250.9 1179.0,249.9 1179.0,248.9 1179.1,247.9 1179.2,246.9 1179.2,245.9 1179.3,244.9 1179.3,243.9 1179.4,242.9 1179.4,241.9 1179.5,240.9 1179.6,239.9 1179.6,238.9 1179.7,237.9 1179.7,236.9 1179.8,235.9 1179.8,234.9 1179.9,233.9 1180.0,232.9 1180.0,231.9 1180.1,230.9 1180.2,229.9 1180.2,228.9 1180.3,227.9 1180.3,226.9 1180.4,225.9 1180.5,224.9 1180.5,223.9 1180.6,222.9 1180.7,221.9 1180.7,220.9 1180.8,219.9 1180.9,218.9 1180.9,217.9 1181.0,216.9 1181.1,215.9 1181.1,214.9 1181.2,213.9 1181.3,212.9 1181.3,211.9 1181.4,210.9 1181.5,209.9 1181.5,208.9 1181.6,207.9 1181.7,206.9 1181.8,205.9 1181.8,205.0 1181.9,204.0 1182.0,203.0 1182.1,202.0 1182.1,201.0 1182.2,200.0 1182.3,199.0 1182.4,198.0 1182.4,197.0 1182.5,196.0 1182.6,195.0 1182.7,194.0 1182.8,193.0 1182.9,192.0 1183.0,191.0 1183.1,190.0 1183.2,189.0 1183.3,188.0 1183.4,187.0 1183.6,186.0 1183.7,185.0 1183.8,184.0 1184.0,183.1 1184.1,182.1 1184.3,181.1 1184.4,180.1 1184.6,179.1 1184.8,178.1 1184.9,177.1 1185.2,176.1 1185.4,175.2 1185.7,174.2 1186.2,173.3 1187.0,173.2 1187.5,174.0 1187.9,175.0 1188.2,175.9 1188.5,176.9 1188.7,177.8 1188.9,178.8 1189.1,179.8 1189.3,180.8 1189.5,181.8 1189.7,182.7 1189.9,183.7 1190.1,184.7 1190.2,185.7 1190.4,186.7 1190.5,187.7 1190.7,188.7 1190.8,189.7 1190.9,190.7 1191.0,191.7 1191.1,192.6 1191.2,193.6 1191.3,194.6 1191.4,195.6 1191.4,196.6 1191.5,197.6 1191.5,198.6 1191.6,199.6 1191.6,200.6 1191.7,201.6 1191.7,202.6 1191.8,203.6 1191.8,204.6 1191.9,205.6 1191.9,206.6 1191.9,207.6 1192.0,208.6 1192.0,209.6 1192.1,210.6 1192.1,211.6 1192.2,212.6 1192.2,213.6 1192.2,214.6 1192.3,215.6 1192.3,216.6 1192.4,217.6 1192.4,218.6 1192.4,219.6 1192.5,220.6 1192.5,221.6 1192.5,222.6 1192.6,223.6 1192.6,224.6 1192.7,225.6 1192.7,226.6 1192.7,227.6 1192.8,228.6 1192.8,229.6 1192.8,230.6 1192.9,231.6 1192.9,232.6 1192.9,233.6 1193.0,234.6 1193.0,235.6 1193.1,236.6 1193.1,237.6 1193.1,238.6 1193.2,239.6 1193.2,240.6 1193.2,241.6 1193.3,242.6 1193.3,243.6 1193.3,244.6 1193.4,245.6 1193.4,246.6 1193.4,247.6 1193.5,248.6 1193.5,249.6 1193.5,250.6 1193.6,251.6 1193.6,252.6 1193.6,253.6 1193.7,254.6 1193.7,255.6 1193.8,256.6 1193.8,257.6 1193.8,258.6 1193.9,259.6 1193.9,260.6 1193.9,261.6 1194.0,262.6 1194.0,263.6 1194.0,264.6 1194.1,265.6 1194.1,266.6 1194.2,267.6 1194.2,268.6 1194.2,269.6 1194.3,270.6 1194.3,271.6 1194.3,272.6 1194.4,273.6 1194.4,274.6 1194.5,275.6 1194.5,276.6 1194.5,277.6 1194.6,278.6 1194.6,279.6 1194.7,280.6 1194.7,281.6 1194.7,282.6 1194.8,283.6 1194.8,284.6 1194.9,285.6 1194.9,286.6 1194.9,287.6 1195.0,288.6 1195.0,289.6 1195.1,290.6 1195.1,291.6 1195.2,292.6 1195.2,293.6 1195.3,294.6 1195.3,295.6 1195.4,296.6 1195.4,297.6 1195.4,298.6 1195.5,299.6 1195.5,300.6 1195.6,301.6 1195.6,302.6 1195.7,303.6 1195.7,304.6 1195.8,305.6 1195.8,306.6 1195.9,307.6 1195.9,308.6 1196.0,309.6 1196.0,310.6 1196.1,311.6 1196.1,312.6 1196.2,313.6 1196.2,314.6 1196.3,315.6 1196.3,316.6 1196.4,317.6 1196.4,318.6 1196.5,319.6 1196.5,320.6 1196.6,321.6 1196.6,322.6 1196.7,323.6 1196.7,324.6 1196.8,325.6 1196.8,326.6 1196.8,327.6 1196.9,328.6 1196.9,329.6 1197.0,330.6 1197.0,331.6 1197.1,332.6 1197.1,333.6 1197.2,334.6 1197.2,335.6 1197.3,336.6 1197.3,337.6 1197.3,338.6 1197.4,339.6 1197.4,340.6 1197.5,341.6 1197.5,342.6 1197.5,343.6 1197.6,344.6 1197.6,345.6 1197.7,346.6 1197.7,347.6 1197.7,348.6 1197.8,349.6 1197.8,350.6 1197.9,351.6 1197.9,352.6 1197.9,353.6 1198.0,354.6 1198.0,355.6 1198.0,356.6 1198.1,357.6 1198.1,358.6 1198.1,359.6 1198.2,360.6 1198.2,361.6 1198.2,362.6 1198.3,363.6 1198.3,364.6 1198.3,365.6 1198.4,366.6 1198.4,367.6 1198.4,368.6 1198.5,369.6 1198.5,370.6 1198.5,371.6 1198.6,372.6 1198.6,373.6 1198.6,374.6 1198.6,375.6 1198.7,376.6 1198.7,377.6 1198.7,378.6 1198.8,379.6 1198.8,380.6 1198.8,381.6 1198.9,382.6 1198.9,383.6 1198.9,384.6 1198.9,385.6 1199.0,386.6 1199.0,387.6 1199.0,388.6 1199.1,389.6 1199.1,390.6 1199.1,391.6 1199.1,392.6 1199.2,393.6 1199.2,394.6 1199.2,395.6 1199.3,396.6 1199.3,397.6 1199.3,398.6 1199.4,399.6 1199.4,400.6 1199.4,401.6 1199.4,402.6 1199.5,403.6 1199.5,404.6 1199.5,405.6 1199.6,406.6 1199.6,407.6 1199.6,408.6 1199.7,409.6 1199.7,410.6 1199.7,411.6 1199.8,412.6 1199.8,413.6 1199.8,414.6 1199.9,415.6 1199.9,416.6 1199.9,417.6 1200.0,418.6 1200.0,419.6 1200.0,420.6 1200.1,421.6 1200.1,422.6 1200.1,423.6 1200.2,424.6 1200.2,425.6 1200.2,426.6 1200.3,427.6 1200.3,428.6 1200.3,429.6 1200.4,430.6 1200.4,431.6 1200.5,432.6 1200.5,433.6 1200.5,434.6 1200.6,435.6 1200.6,436.6 1200.7,437.6 1200.7,438.6 1200.7,439.6 1200.8,440.6 1200.8,441.6 1200.9,442.6 1200.9,443.6 1201.0,444.6 1201.0,445.6 1201.1,446.6 1201.1,447.6 1201.2,448.6 1201.2,449.6 1201.2,450.6 1201.3,451.6 1201.3,452.6 1201.4,453.6 1201.4,454.6 1201.5,455.6 1201.6,456.6 1201.6,457.6 1201.7,458.6 1201.7,459.6 1201.8,460.6 1201.8,461.6 1201.9,462.6 1201.9,463.6 1202.0,464.6 1202.0,465.6 1202.1,466.6 1202.2,467.6 1202.2,468.6 1202.3,469.6 1202.3,470.6 1202.4,471.6 1202.5,472.6 1202.5,473.5 1202.6,474.5 1202.6,475.5 1202.7,476.5 1202.8,477.5 1202.8,478.5 1202.9,479.5 1202.9,480.5 1203.0,481.5 1203.1,482.5 1203.1,483.5 1203.2,484.5 1203.3,485.5 1203.3,486.5 1203.4,487.5 1203.5,488.5 1203.5,489.5 1203.6,490.5 1203.7,491.5 1203.7,492.5 1203.8,493.5 1203.9,494.5 1204.0,495.5 1204.0,496.5 1204.1,497.5 1204.2,498.5 1204.2,499.5 1204.3,500.5 1204.4,501.5 1204.4,502.5 1204.5,503.5 1204.6,504.5 1204.7,505.5 1204.7,506.5 1204.8,507.5 1204.9,508.5 1204.9,509.5 1205.0,510.5 1205.1,511.5 1205.2,512.5 1205.2,513.5 1205.3,514.5 1205.4,515.5 1205.4,516.5 1205.5,517.5 1205.6,518.5 1205.6,519.5 1205.7,520.5 1205.8,521.5 1205.9,522.5 1205.9,523.5 1206.0,524.5 1206.1,525.5 1206.1,526.5 1206.2,527.5 1206.3,528.4 1206.3,529.4 1206.4,530.4 1206.5,531.4 1206.5,532.4 1206.6,533.4 1206.7,534.4 1206.7,535.4 1206.8,536.4 1206.9,537.4 1206.9,538.4 1207.0,539.4 1207.1,540.4 1207.1,541.4 1207.2,542.4 1207.2,543.4 1207.3,544.4 1207.4,545.4 1207.4,546.4 1207.5,547.4 1207.6,548.4 1207.6,549.4 1207.7,550.4 1207.8,551.4 1207.8,552.4 1207.9,553.4 1208.0,554.4 1208.1,555.4 1208.1,556.4 1208.2,557.4 1208.3,558.4 1208.4,559.4 1208.5,560.4 1208.6,561.4 1208.7,562.4 1208.8,563.4 1208.9,564.4 1209.0,565.4 1209.1,566.4 1209.2,567.4 1209.3,568.3 1209.4,569.3 1209.6,570.3 1209.7,571.3 1209.8,572.3 1209.9,573.3 1210.1,574.3 1210.2,575.3 1210.3,576.3 1210.5,577.3 1210.6,578.3 1210.7,579.3 1210.9,580.3 1211.0,581.2 1211.2,582.2 1211.3,583.2 1211.5,584.2 1211.6,585.2 1211.8,586.2 1211.9,587.2 1212.1,588.2 1212.3,589.1 1212.4,590.1 1212.6,591.1 1212.8,592.1 1213.0,593.1 1213.2,594.1 1213.5,595.0 1213.8,596.0 1214.1,596.9 1214.4,597.9 1214.9,598.8 1215.3,599.7 1215.8,600.5 1216.4,601.4 1217.0,602.1 1217.9,602.6 1218.9,602.8 1219.8,602.6 1220.8,602.2 1221.6,601.7 1222.5,601.2 1223.3,600.6 1224.2,600.1 1225.0,599.5 1225.8,599.0 1226.7,598.4 1227.5,597.9 1228.4,597.4 1229.3,596.9 1230.2,596.5 1231.1,596.1 1232.0,595.8 1233.0,595.5 1234.0,595.4 1235.0,595.3 1236.0,595.3 1237.0,595.4 1238.0,595.5 1239.0,595.6 1240.0,595.7 1241.0,595.7 1242.0,595.7 1243.0,595.7 1244.0,595.6 1245.0,595.4 1245.9,595.2 1246.9,595.0 1247.9,594.8 1248.8,594.5 1249.8,594.2 1250.7,593.9 1251.7,593.6 1252.7,593.3 1253.6,593.0 1254.6,592.8 1255.6,592.5 1256.5,592.3 1257.5,592.1 1258.5,591.9 1259.5,591.7 1260.5,591.5 1261.4,591.3 1262.4,591.2 1263.4,591.0 1264.4,590.9 1265.4,590.7 1266.4,590.6 1267.4,590.5 1268.4,590.4 1269.4,590.3 1270.4,590.2 1271.4,590.1 1272.4,590.0 1273.4,589.9 1274.4,589.8 1275.4,589.7 1276.4,589.6 1277.3,589.5 1278.3,589.4 1279.3,589.4 1280.3,589.3 1281.3,589.2 1282.3,589.1 1283.3,589.0 1284.3,588.9 1285.3,588.8 1286.3,588.7 1287.3,588.6 1288.3,588.5" stroke="#1570c4" stroke-width="2.45"/>
<path d="M99.1,389.9L100.4,390.7 101.8,391.4 103.1,392.2 104.4,392.9 105.7,393.7 107.0,394.4 108.3,395.2 109.6,395.9 110.9,396.7 112.1,397.5 113.4,398.2 114.7,399.0 116.0,399.8 117.3,400.5 118.6,401.3 119.9,402.1 121.2,402.8 122.5,403.6 123.8,404.4 125.1,405.1 126.4,405.9 127.7,406.6 129.0,407.4 130.3,408.2 131.6,408.9 132.9,409.7 134.2,410.4 135.5,411.2 136.8,411.9 138.1,412.7 139.4,413.4 140.7,414.2 142.0,414.9 143.3,415.6 144.6,416.3 145.9,417.1 147.3,417.8 148.6,418.5 149.9,419.2 151.2,419.9 152.6,420.6 153.9,421.3 155.2,422.0 156.6,422.6 157.9,423.3 159.3,424.0 160.6,424.6 162.0,425.3 163.3,425.9 164.7,426.6 166.1,427.2 167.4,427.8 168.8,428.4 170.2,429.0 171.6,429.6 173.0,430.2 174.3,430.8 175.7,431.3 177.1,431.9 178.5,432.4 180.0,432.9 181.4,433.4 182.8,433.9 184.2,434.4 185.6,434.9 187.0,435.4 188.5,435.9 189.9,436.3 191.3,436.8 192.8,437.2 194.2,437.6 195.7,438.0 197.1,438.4 198.6,438.8 200.0,439.2 201.5,439.6 202.9,440.0 204.4,440.3 205.8,440.7 207.3,441.1 208.8,441.4 210.2,441.7 211.7,442.1 213.2,442.4 214.6,442.7 216.1,443.1 217.6,443.4 219.0,443.7 220.5,444.0 222.0,444.3 223.4,444.6 224.9,444.9 226.4,445.2 227.9,445.5 229.3,445.8 230.8,446.1 232.3,446.4 233.8,446.6 235.2,446.9 236.7,447.2 238.2,447.5 239.7,447.8 241.1,448.1 242.6,448.4 244.1,448.6 245.6,448.9 247.0,449.2 248.5,449.5 250.0,449.8 251.5,450.1 252.9,450.4 254.4,450.7 255.9,451.0 257.3,451.3 258.8,451.6 260.3,451.9 261.8,452.3 263.2,452.6 264.7,452.9 266.2,453.2 267.6,453.5 269.1,453.9 270.6,454.2 272.0,454.5 273.5,454.8 275.0,455.2 276.4,455.5 277.9,455.8 279.4,456.2 280.8,456.5 282.3,456.8 283.7,457.2 285.2,457.5 286.7,457.8 288.1,458.2 289.6,458.5 291.1,458.9 292.5,459.2 294.0,459.6 295.5,459.9 296.9,460.2 298.4,460.6 299.8,460.9 301.3,461.3 302.8,461.6 304.2,462.0 305.7,462.3 307.2,462.6 308.6,463.0 310.1,463.3 311.5,463.7 313.0,464.0 314.5,464.4 315.9,464.7 317.4,465.0 318.9,465.4 320.3,465.7 321.8,466.1 323.3,466.4 324.7,466.7 326.2,467.1 327.7,467.4 329.1,467.7 330.6,468.0 332.1,468.4 333.5,468.7 335.0,469.0 336.5,469.3 337.9,469.7 339.4,470.0 340.9,470.3 342.3,470.6 343.8,470.9 345.3,471.2 346.7,471.5 348.2,471.8 349.7,472.1 351.2,472.4 352.6,472.7 354.1,473.0 355.6,473.3 357.1,473.6 358.5,473.9 360.0,474.2 361.5,474.5 363.0,474.8 364.4,475.0 365.9,475.3 367.4,475.6 368.9,475.9 370.3,476.1 371.8,476.4 373.3,476.7 374.8,476.9 376.2,477.2 377.7,477.5 379.2,477.7 380.7,478.0 382.2,478.3 383.6,478.5 385.1,478.8 386.6,479.0 388.1,479.3 389.6,479.5 391.1,479.8 392.5,480.0 394.0,480.3 395.5,480.5 397.0,480.8 398.5,481.0 399.9,481.3 401.4,481.5 402.9,481.7 404.4,482.0 405.9,482.2 407.4,482.4 408.8,482.7 410.3,482.9 411.8,483.1 413.3,483.4 414.8,483.6 416.3,483.8 417.8,484.1 419.2,484.3 420.7,484.5 422.2,484.7 423.7,485.0 425.2,485.2 426.7,485.4 428.2,485.6 429.6,485.8 431.1,486.1 432.6,486.3 434.1,486.5 435.6,486.7 437.1,486.9 438.6,487.1 440.1,487.4 441.5,487.6 443.0,487.8 444.5,488.0 446.0,488.2 447.5,488.4 449.0,488.6 450.5,488.8 452.0,489.1 453.4,489.3 454.9,489.5 456.4,489.7 457.9,489.9 459.4,490.1 460.9,490.3 462.4,490.6 463.8,490.8 465.3,491.0 466.8,491.2 468.3,491.5 469.8,491.7 471.3,491.9 472.8,492.2 474.2,492.4 475.7,492.6 477.2,492.9 478.7,493.1 480.2,493.4 481.7,493.6 483.1,493.9 484.6,494.2 486.1,494.4 487.6,494.7 489.0,495.0 490.5,495.3 492.0,495.6 493.5,495.9 494.9,496.2 496.4,496.5 497.9,496.8 499.3,497.1 500.8,497.4 502.3,497.8 503.7,498.1 505.2,498.5 506.7,498.8 508.1,499.2 509.6,499.6 511.0,499.9 512.5,500.3 513.9,500.7 515.4,501.1 516.8,501.5 518.3,501.8 519.8,502.2 521.2,502.5 522.7,502.7 524.2,503.0 525.7,503.2 527.2,503.3 528.7,503.4 530.2,503.5 531.7,503.4 533.2,503.4 534.7,503.2 536.2,503.0 537.6,502.7 539.1,502.3 540.5,501.8 541.9,501.3 543.3,500.6 544.6,499.9 545.8,499.1 547.1,498.2 548.3,497.3 549.4,496.3 550.5,495.3 551.6,494.2 552.6,493.1 553.6,492.0 554.5,490.8 555.4,489.6 556.3,488.4 557.1,487.2 558.0,485.9 558.7,484.6 559.5,483.3 560.2,482.0 560.9,480.7 561.6,479.4 562.3,478.0 562.9,476.7 563.6,475.3 564.2,473.9 564.8,472.5 565.3,471.1 565.9,469.7 566.4,468.3 566.9,466.9 567.3,465.5 567.8,464.1 568.2,462.6 568.7,461.2 569.1,459.7 569.5,458.3 569.9,456.8 570.4,455.4 570.8,454.0 571.2,452.5 571.6,451.1 572.1,449.6 572.5,448.2 573.0,446.8 573.4,445.3 573.8,443.9 574.3,442.5 574.7,441.0 575.2,439.6 575.7,438.2 576.1,436.7 576.6,435.3 577.0,433.9 577.5,432.4 577.9,431.0 578.4,429.6 578.8,428.1 579.3,426.7 579.7,425.3 580.1,423.8 580.6,422.4 581.0,421.0 581.4,419.5 581.9,418.1 582.3,416.6 582.7,415.2 583.1,413.7 583.5,412.3 583.9,410.8 584.3,409.4 584.6,407.9 585.0,406.5 585.4,405.0 585.7,403.6 586.1,402.1 586.4,400.6 586.7,399.2 587.1,397.7 587.4,396.2 587.7,394.7 587.9,393.3 588.2,391.8 588.5,390.3 588.8,388.8 589.0,387.4 589.3,385.9 589.5,384.4 589.8,382.9 590.0,381.4 590.2,379.9 590.5,378.5 590.7,377.0 590.9,375.5 591.1,374.0 591.3,372.5 591.6,371.0 591.8,369.5 592.0,368.1 592.2,366.6 592.4,365.1 592.6,363.6 592.8,362.1 593.1,360.6 593.3,359.1 593.5,357.6 593.7,356.2 593.9,354.7 594.2,353.2 594.4,351.7 594.6,350.2 594.9,348.7 595.1,347.3 595.3,345.8 595.6,344.3 595.8,342.8 596.1,341.3 596.3,339.8 596.6,338.4 596.8,336.9 597.1,335.4 597.3,333.9 597.6,332.4 597.9,331.0 598.1,329.5 598.4,328.0 598.7,326.5 598.9,325.0 599.2,323.6 599.5,322.1 599.7,320.6 600.0,319.1 600.3,317.7 600.6,316.2 600.8,314.7 601.1,313.2 601.4,311.7 601.7,310.3 602.0,308.8 602.3,307.3 602.5,305.8 602.8,304.4 603.1,302.9 603.4,301.4 603.7,299.9 604.0,298.5 604.3,297.0 604.6,295.5 604.9,294.0 605.1,292.6 605.4,291.1 605.7,289.6 606.0,288.2 606.3,286.7 606.6,285.2 606.9,283.7 607.2,282.3 607.5,280.8 607.8,279.3 608.1,277.8 608.4,276.4 608.7,274.9 609.0,273.4 609.3,272.0 609.6,270.5 609.9,269.0 610.2,267.5 610.5,266.1 610.8,264.6 611.1,263.1 611.4,261.6 611.7,260.2 612.0,258.7 612.3,257.2 612.6,255.8 612.9,254.3 613.2,252.8 613.5,251.3 613.8,249.9 614.1,248.4 614.4,246.9 614.7,245.4 615.0,244.0 615.3,242.5 615.5,241.0 615.8,239.5 616.1,238.1 616.4,236.6 616.7,235.1 617.0,233.7 617.3,232.2 617.6,230.7 617.9,229.2 618.1,227.8 618.4,226.3 618.7,224.8 619.0,223.3 619.3,221.9 619.6,220.4 619.9,218.9 620.2,217.4 620.5,216.0 620.7,214.5 621.0,213.0 621.3,211.5 621.6,210.1 621.9,208.6 622.2,207.1 622.5,205.6 622.8,204.2 623.1,202.7 623.4,201.2 623.7,199.8 624.0,198.3 624.3,196.8 624.6,195.3 625.0,193.9 625.3,192.4 625.6,190.9 625.9,189.5 626.2,188.0 626.5,186.5 626.9,185.1 627.2,183.6 627.5,182.1 627.9,180.7 628.2,179.2 628.6,177.7 628.9,176.3 629.2,174.8 629.6,173.4 630.0,171.9 630.3,170.4 630.7,169.0 631.0,167.5 631.4,166.1 631.8,164.6 632.2,163.2 632.6,161.7 632.9,160.3 633.3,158.8 633.7,157.4 634.1,155.9 634.5,154.5 634.9,153.0 635.4,151.6 635.8,150.1 636.2,148.7 636.6,147.2 637.1,145.8 637.5,144.4 637.9,142.9 638.4,141.5 638.8,140.1 639.3,138.6 639.7,137.2 640.2,135.8 640.7,134.3 641.2,132.9 641.7,131.5 642.3,130.1 642.8,128.7 643.4,127.3 644.0,126.0 644.7,124.6 645.3,123.3 646.1,122.0 646.8,120.7 647.7,119.4 648.5,118.2 649.5,117.0 650.4,115.9 651.5,114.8 652.6,113.7 653.7,112.8 654.9,111.9 656.2,111.0 657.5,110.3 658.8,109.6 660.2,109.1 661.6,108.6 663.1,108.3 664.6,108.2 666.1,108.2 667.6,108.4 669.1,108.7 670.5,109.1 671.9,109.6 673.3,110.2 674.7,110.8 676.0,111.5 677.3,112.3 678.5,113.1 679.8,113.9 681.0,114.8 682.2,115.7 683.4,116.6 684.6,117.5 685.8,118.4 687.0,119.4 688.2,120.3 689.4,121.2 690.6,122.1 691.8,123.0 693.0,123.8 694.3,124.7 695.5,125.5 696.9,126.2 698.2,126.9 699.5,127.5 700.9,128.1 702.3,128.7 703.7,129.2 705.2,129.7 706.6,130.1 708.1,130.4 709.5,130.7 711.0,131.0 712.5,131.2 714.0,131.3 715.5,131.4 717.0,131.5 718.5,131.5 720.0,131.4 721.5,131.4 723.0,131.2 724.5,131.0 726.0,130.8 727.5,130.5 728.9,130.1 730.4,129.8 731.8,129.4 733.3,128.9 734.7,128.5 736.1,128.0 737.5,127.5 738.9,126.9 740.3,126.4 741.7,125.9 743.1,125.3 744.5,124.8 746.0,124.3 747.4,123.7 748.8,123.2 750.2,122.7 751.6,122.2 753.0,121.8 754.5,121.3 755.9,120.9 757.4,120.6 758.8,120.2 760.3,120.0 761.8,119.7 763.3,119.6 764.8,119.5 766.3,119.4 767.8,119.4 769.3,119.5 770.8,119.6 772.3,119.8 773.8,120.0 775.3,120.3 776.7,120.6 778.2,120.9 779.6,121.4 781.1,121.8 782.5,122.3 783.9,122.8 785.3,123.4 786.7,124.0 788.0,124.6 789.4,125.3 790.7,126.0 792.0,126.8 793.3,127.5 794.6,128.3 795.8,129.2 797.0,130.0 798.2,130.9 799.4,131.8 800.6,132.8 801.8,133.7 802.9,134.7 804.0,135.7 805.1,136.8 806.2,137.8 807.2,138.9 808.3,140.0 809.3,141.1 810.3,142.2 811.2,143.4 812.2,144.5 813.2,145.7 814.1,146.9 815.0,148.1 815.9,149.3 816.8,150.5 817.6,151.7 818.5,152.9 819.3,154.2 820.2,155.4 821.0,156.7 821.8,158.0 822.6,159.2 823.4,160.5 824.1,161.8 824.9,163.1 825.6,164.4 826.4,165.7 827.1,167.0 827.9,168.3 828.6,169.7 829.3,171.0 830.0,172.3 830.7,173.6 831.4,175.0 832.1,176.3 832.7,177.7 833.4,179.0 834.1,180.4 834.7,181.7 835.4,183.1 836.0,184.4 836.6,185.8 837.3,187.2 837.9,188.5 838.5,189.9 839.1,191.3 839.7,192.6 840.3,194.0 840.9,195.4 841.5,196.8 842.1,198.2 842.6,199.6 843.2,200.9 843.8,202.3 844.4,203.7 844.9,205.1 845.5,206.5 846.0,207.9 846.6,209.3 847.1,210.7 847.7,212.1 848.2,213.5 848.8,214.9 849.3,216.3 849.8,217.7 850.4,219.1 850.9,220.5 851.4,221.9 852.0,223.3 852.5,224.7 853.0,226.1 853.6,227.6 854.1,229.0 854.6,230.4 855.1,231.8 855.6,233.2 856.2,234.6 856.7,236.0 857.2,237.4 857.7,238.8 858.2,240.2 858.8,241.7 859.3,243.1 859.8,244.5 860.3,245.9 860.8,247.3 861.3,248.7 861.8,250.1 862.3,251.5 862.9,253.0 863.4,254.4 863.9,255.8 864.4,257.2 864.9,258.6 865.4,260.0 865.9,261.4 866.4,262.8 866.9,264.3 867.4,265.7 867.9,267.1 868.5,268.5 869.0,269.9 869.5,271.3 870.0,272.7 870.5,274.2 871.0,275.6 871.5,277.0 872.0,278.4 872.5,279.8 873.1,281.2 873.6,282.6 874.1,284.0 874.6,285.5 875.1,286.9 875.6,288.3 876.1,289.7 876.7,291.1 877.2,292.5 877.7,293.9 878.2,295.3 878.8,296.7 879.3,298.1 879.8,299.5 880.4,300.9 881.0,302.3 881.5,303.7 882.1,305.1 882.7,306.5 883.3,307.9 883.9,309.2 884.5,310.6 885.1,312.0 885.8,313.3 886.4,314.7 887.1,316.0 887.8,317.4 888.5,318.7 889.2,320.0 889.9,321.3 890.7,322.6 891.5,323.9 892.2,325.2 893.1,326.5 893.9,327.7 894.7,329.0 895.6,330.2 896.5,331.4 897.4,332.6 898.4,333.7 899.4,334.9 900.3,336.0 901.4,337.1 902.4,338.2 903.5,339.3 904.6,340.3 905.7,341.3 906.8,342.3 908.0,343.2 909.2,344.2 910.4,345.0 911.6,345.9 912.9,346.7 914.2,347.5 915.5,348.2 916.8,348.8 918.2,349.4 919.6,350.0 921.1,350.4 922.5,350.8 924.0,351.1 925.5,351.3 927.0,351.4 928.5,351.5 930.0,351.4 931.5,351.2 932.9,350.9 934.4,350.6 935.9,350.2 937.3,349.8 938.7,349.3 940.2,348.9 941.6,348.4 943.0,348.0 944.5,347.5 945.9,347.1 947.3,346.7 948.8,346.2 950.2,345.9 951.7,345.5 953.2,345.1 954.6,344.8 956.1,344.5 957.6,344.2 959.0,343.9 960.5,343.7 962.0,343.5 963.5,343.3 965.0,343.2 966.5,343.1 968.0,343.1 969.5,343.1 971.0,343.2 972.5,343.3 974.0,343.4 975.5,343.6 977.0,343.9 978.5,344.2 979.9,344.5 981.4,344.9 982.8,345.3 984.3,345.7 985.7,346.2 987.1,346.7 988.5,347.2 989.9,347.7 991.3,348.3 992.7,348.9 994.0,349.6 995.4,350.2 996.7,350.9 998.1,351.6 999.4,352.3 1000.7,353.0 1002.0,353.7 1003.3,354.5 1004.6,355.2 1005.9,356.0 1007.2,356.8 1008.5,357.6 1009.8,358.4 1011.0,359.2 1012.3,360.0 1013.6,360.8 1014.8,361.6 1016.1,362.4 1017.4,363.2 1018.7,364.0 1019.9,364.8 1021.2,365.6 1022.5,366.4 1023.7,367.2 1025.0,368.0 1026.3,368.8 1027.5,369.6 1028.8,370.4 1030.1,371.2 1031.4,372.0 1032.6,372.8 1033.9,373.6 1035.2,374.4 1036.5,375.2 1037.7,376.0 1039.0,376.8 1040.3,377.5 1041.6,378.3 1042.9,379.1 1044.1,379.9 1045.4,380.7 1046.7,381.5 1048.0,382.2 1049.3,383.0 1050.6,383.8 1051.9,384.6 1053.2,385.3 1054.4,386.1 1055.7,386.9 1057.0,387.6 1058.3,388.4 1059.6,389.1 1060.9,389.9 1062.2,390.7 1063.5,391.4 1064.8,392.2 1066.1,392.9 1067.4,393.7 1068.7,394.4 1070.0,395.1 1071.4,395.9 1072.7,396.6 1074.0,397.3 1075.3,398.1 1076.6,398.8 1077.9,399.5 1079.2,400.2 1080.6,400.9 1081.9,401.6 1083.2,402.4 1084.5,403.1 1085.9,403.8 1087.2,404.5 1088.5,405.2 1089.9,405.8 1091.2,406.5 1092.5,407.2 1093.9,407.9 1095.2,408.6 1096.6,409.2 1097.9,409.9 1099.3,410.6 1100.6,411.2 1102.0,411.9 1103.3,412.5 1104.7,413.2 1106.0,413.8 1107.4,414.5 1108.8,415.1 1110.1,415.7 1111.5,416.4 1112.9,417.0 1114.2,417.6 1115.6,418.2 1117.0,418.8 1118.4,419.4 1119.7,420.0 1121.1,420.6 1122.5,421.2 1123.9,421.8 1125.3,422.4 1126.7,422.9 1128.1,423.5 1129.4,424.0 1130.8,424.6 1132.2,425.2 1133.6,425.7 1135.0,426.2 1136.4,426.8 1137.9,427.3 1139.3,427.8 1140.7,428.3 1142.1,428.8 1143.5,429.3 1144.9,429.8 1146.3,430.3 1147.8,430.8 1149.2,431.3 1150.6,431.8 1152.1,432.2 1153.5,432.7 1154.9,433.1 1156.3,433.6 1157.8,434.0 1159.2,434.5 1160.7,434.9 1162.1,435.3 1163.5,435.7 1165.0,436.2 1166.4,436.6 1167.9,437.0 1169.3,437.4 1170.8,437.8 1172.2,438.2 1173.7,438.6 1175.1,438.9 1176.6,439.3 1178.0,439.7 1179.5,440.1 1180.9,440.4 1182.4,440.8 1183.9,441.2 1185.3,441.5 1186.8,441.9 1188.2,442.2 1189.7,442.6 1191.2,442.9 1192.6,443.3 1194.1,443.6 1195.6,443.9 1197.0,444.3 1198.5,444.6 1200.0,444.9 1201.4,445.2 1202.9,445.6 1204.4,445.9 1205.8,446.2 1207.3,446.5 1208.8,446.8 1210.2,447.1 1211.7,447.4 1213.2,447.7 1214.7,448.0 1216.1,448.3 1217.6,448.6 1219.1,448.9 1220.5,449.2 1222.0,449.5 1223.5,449.8 1225.0,450.1 1226.4,450.4 1227.9,450.7 1229.4,451.0 1230.9,451.3 1232.3,451.6 1233.8,451.9 1235.3,452.2 1236.8,452.5 1238.2,452.7 1239.7,453.0 1241.2,453.3 1242.7,453.6 1244.1,453.9 1245.6,454.2 1247.1,454.5 1248.6,454.8 1250.0,455.1 1251.5,455.4 1253.0,455.6 1254.5,455.9 1255.9,456.2 1257.4,456.5 1258.9,456.8 1260.3,457.1 1261.8,457.4 1263.3,457.7 1264.8,458.0 1266.2,458.3 1267.7,458.6 1269.2,458.9 1270.6,459.3 1272.1,459.6 1273.6,459.9 1275.1,460.2 1276.5,460.5 1278.0,460.8 1279.5,461.2 1280.9,461.5 1282.4,461.8 1283.9,462.1 1285.3,462.5 1286.8,462.8 1288.2,463.2" stroke="#009e00" stroke-width="2.4"/>
</g>
<g stroke="#8c8c8c" stroke-width="2" fill="none">
<line x1="99.05" y1="18.6" x2="99.05" y2="643.5"/>
<line x1="99.05" y1="557.7" x2="110.55" y2="557.7"/><line x1="99.05" y1="467.8" x2="110.55" y2="467.8"/><line x1="99.05" y1="378.0" x2="110.55" y2="378.0"/><line x1="99.05" y1="288.2" x2="110.55" y2="288.2"/><line x1="99.05" y1="197.8" x2="110.55" y2="197.8"/><line x1="99.05" y1="108.1" x2="110.55" y2="108.1"/><line x1="99.05" y1="18.6" x2="110.55" y2="18.6"/>
</g>
<g stroke="#5e5e5e" stroke-width="2" fill="none">
<line x1="98.05" y1="643.5" x2="1288.9" y2="643.5"/>
<line x1="291.0" y1="643.5" x2="291.0" y2="632.0"/><line x1="484.6" y1="643.5" x2="484.6" y2="632.0"/><line x1="678.1" y1="643.5" x2="678.1" y2="632.0"/><line x1="873.1" y1="643.5" x2="873.1" y2="632.0"/><line x1="1067.0" y1="643.5" x2="1067.0" y2="632.0"/><line x1="1260.5" y1="643.5" x2="1260.5" y2="632.0"/>
</g>
<g fill="#000" font-size="30.5">
<text transform="translate(291.0,671.7) scale(1,1.08)" y="10.49" text-anchor="middle">0.2</text><text transform="translate(484.6,671.7) scale(1,1.08)" y="10.49" text-anchor="middle">0.4</text><text transform="translate(678.1,671.7) scale(1,1.08)" y="10.49" text-anchor="middle">0.6</text><text transform="translate(873.1,671.7) scale(1,1.08)" y="10.49" text-anchor="middle">0.8</text><text transform="translate(1067.0,671.7) scale(1,1.08)" y="10.49" text-anchor="middle">1</text><text transform="translate(1260.5,671.7) scale(1,1.08)" y="10.49" text-anchor="middle">1.2</text>
<text transform="translate(90.8,558.7) scale(1,1.08)" y="10.49" text-anchor="end">0</text><text transform="translate(90.8,468.8) scale(1,1.08)" y="10.49" text-anchor="end">0.2</text><text transform="translate(90.8,379.0) scale(1,1.08)" y="10.49" text-anchor="end">0.4</text><text transform="translate(90.8,289.2) scale(1,1.08)" y="10.49" text-anchor="end">0.6</text><text transform="translate(90.8,198.8) scale(1,1.08)" y="10.49" text-anchor="end">0.8</text><text transform="translate(90.8,109.1) scale(1,1.08)" y="10.49" text-anchor="end">1</text><text transform="translate(90.8,19.6) scale(1,1.08)" y="10.49" text-anchor="end">1.2</text>
</g>
<text x="694.2" y="724.4" font-size="33.5" text-anchor="middle">Time (s)</text>
<text transform="translate(32.3,330.5) rotate(-90)" font-size="33.3" text-anchor="middle">Normalized Amplitude</text>
<!-- annotations -->
<g clip-path="url(#pc)" fill="none" stroke="#000" stroke-width="2.2" stroke-dasharray="6.2 6.6">
<line x1="144.1" y1="503.1" x2="918.5" y2="503.1" stroke-dasharray="6.1 6.7"/>
<line x1="649.8" y1="18.8" x2="547.3" y2="642.5"/>
</g>
<rect x="383" y="149.3" width="7.2" height="7.4" fill="#f00"/>
<rect x="566.7" y="149.3" width="7.3" height="7.4" fill="#f00"/>
<rect x="566.7" y="499.4" width="7.4" height="7.3" fill="#f00"/>
<line x1="570.4" y1="503" x2="570.4" y2="150" stroke="#000" stroke-width="2.2" stroke-dasharray="6.2 6.6"/>
<line x1="386.5" y1="153.1" x2="570.4" y2="153.1" stroke="#000" stroke-width="3"/>
<path d="M558.2,151.6 C558.2,150.2 559.2,150.1 560.5,150.1 L567,151.4 L567,154.4 L560.5,155.7 C559.2,155.7 558.2,155.6 558.2,154.2 Z" fill="#000"/>
<text x="478.2" y="133.2" font-size="30.3" text-anchor="middle">Pulse Arrival Time</text>
<!-- legend -->
<rect x="1118.9" y="28.9" width="159.5" height="71" fill="#fff" stroke="#5c5c5c" stroke-width="1.7"/>
<line x1="1147.4" y1="47.2" x2="1179.3" y2="47.2" stroke="#1570c4" stroke-width="2.45"/>
<line x1="1147.4" y1="81.3" x2="1179.3" y2="81.3" stroke="#009e00" stroke-width="2.4"/>
<g font-size="27.5"><text x="1190.6" y="57.2">ECG</text><text x="1189.9" y="91.2">ABP</text></g>
</g>
</svg>
</body></html>
